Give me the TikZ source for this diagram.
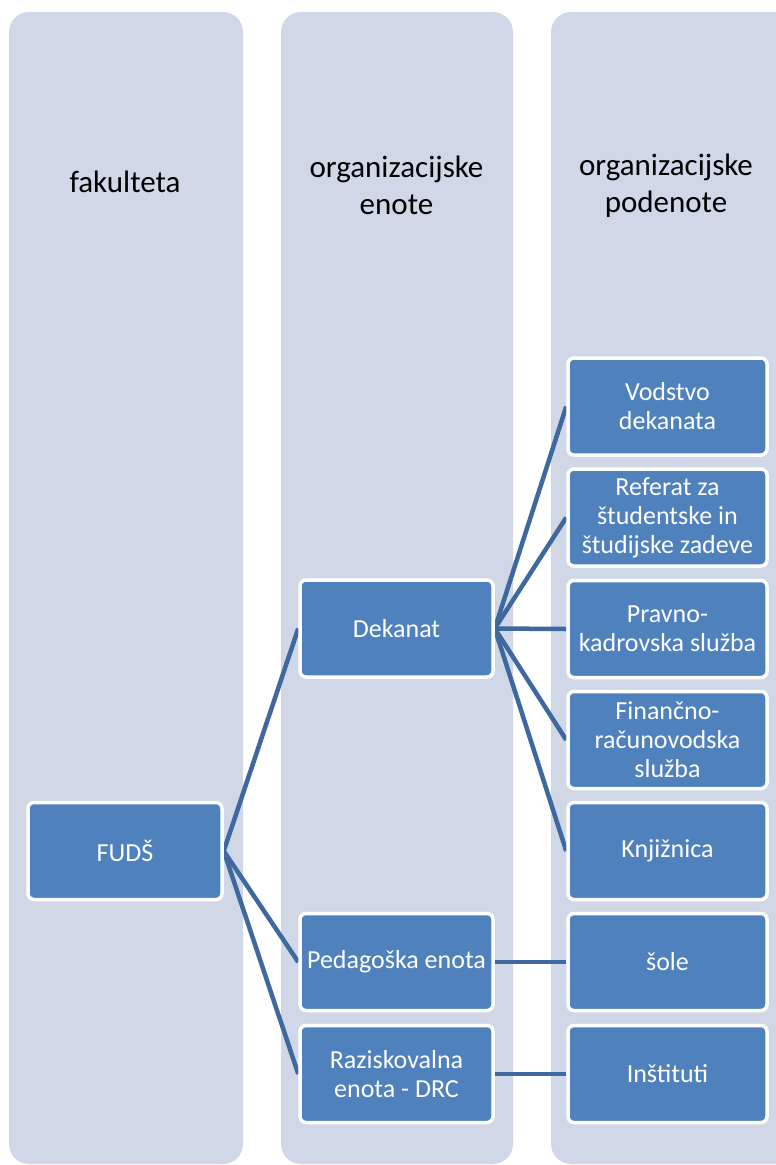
\documentclass[tikz,border=0pt]{standalone}
\usepackage{fontspec}
\setmainfont{Carlito}
\usetikzlibrary{backgrounds}
\definecolor{colbg}{HTML}{D0D8E8}
\definecolor{boxfill}{HTML}{4F81BD}
\definecolor{linkc}{HTML}{3E689E}
\tikzset{
  column/.style={fill=colbg, draw=none, rounded corners=20pt},
  header/.style={text=black, align=center, font=\fontsize{31}{37}\selectfont},
  orgbox/.style={fill=boxfill, draw=white, line width=3.5pt, rounded corners=6pt,
    minimum height=97pt, text=white, align=center, inner sep=2pt,
    font=\fontsize{26}{29}\selectfont},
  box1/.style={orgbox, minimum width=194pt},
  box2/.style={orgbox, minimum width=193pt},
  box3/.style={orgbox, minimum width=199pt},
  link/.style={draw=linkc, line width=4.5pt}
}
\begin{document}
\begin{tikzpicture}[x=1pt,y=-1pt]
\useasboundingbox (0,0) rectangle (776,1165);
\clip (0,0) rectangle (776,1165);
% headers
\node[header] (h1) at (125,182) {fakulteta};
\node[header] (h2) at (396.5,185.5) {organizacijske\\enote};
\node[header] (h3) at (666,185.5) {organizacijske\\podenote};
% boxes
\node[box1] (fuds) at (125,851) {FUDŠ};
\node[box2] (dek) at (396.5,628.5) {Dekanat};
\node[box2] (ped) at (396.5,962) {Pedagoška enota};
\node[box2] (raz) at (396.5,1074) {Raziskovalna\\enota - DRC};
\node[box3] (vod) at (667.5,406.5) {Vodstvo\\dekanata};
\node[box3] (ref) at (667.5,517.5) {Referat za\\študentske in\\študijske zadeve};
\node[box3] (pra) at (667.5,629) {Pravno-\\kadrovska služba};
\node[box3] (fin) at (667.5,740) {Finančno-\\računovodska\\služba};
\node[box3] (knj) at (667.5,851) {Knjižnica};
\node[box3] (sol) at (667.5,962) {šole};
\node[box3] (ins) at (667.5,1074) {Inštituti};
\begin{scope}[on background layer]
  \path[column] (9,12) rectangle (243,1164);
  \path[column] (281,12) rectangle (513,1164);
  \path[column] (551,12) rectangle (800,1164);
  \draw[link] (fuds.east) -- (dek.west);
  \draw[link] (fuds.east) -- (ped.west);
  \draw[link] (fuds.east) -- (raz.west);
  \draw[link] (dek.east) -- (vod.west);
  \draw[link] (dek.east) -- (ref.west);
  \draw[link] (dek.east) -- (pra.west);
  \draw[link] (dek.east) -- (fin.west);
  \draw[link] (dek.east) -- (knj.west);
  \draw[link] (ped.east) -- (sol.west);
  \draw[link] (raz.east) -- (ins.west);
\end{scope}
\end{tikzpicture}
\end{document}
